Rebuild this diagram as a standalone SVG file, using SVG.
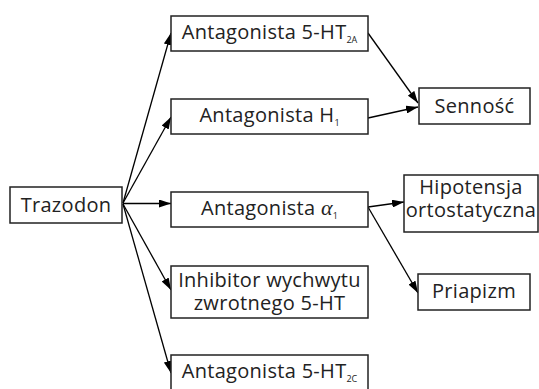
<svg xmlns="http://www.w3.org/2000/svg" width="539" height="389" viewBox="0 0 539 389">
<defs>
<style>
.box{fill:#fff;stroke:#222;stroke-width:1.5}
.t{font-family:"Open Sans","Noto Sans",sans-serif;font-size:20px;letter-spacing:0.3px;fill:#222;text-anchor:middle}
.sub{font-size:9px;letter-spacing:0}
.c{stroke:#000;stroke-width:1.3;fill:none;marker-end:url(#ah)}
</style>
<marker id="ah" viewBox="0 0 12 8" refX="12" refY="4" markerWidth="12" markerHeight="8" markerUnits="userSpaceOnUse" orient="auto">
<path d="M0,0 L12,4 L0,8 Z" fill="#000"/>
</marker>
</defs>
<g id="connectors">
<line class="c" x1="123" y1="203" x2="171" y2="33"/>
<line class="c" x1="123" y1="203" x2="171" y2="117"/>
<line class="c" x1="123" y1="203.5" x2="171" y2="203.5"/>
<line class="c" x1="123" y1="204" x2="171" y2="290"/>
<line class="c" x1="123" y1="204" x2="171" y2="373"/>
<line class="c" x1="368" y1="33" x2="418" y2="103"/>
<line class="c" x1="368" y1="118" x2="418" y2="107"/>
<line class="c" x1="368" y1="207" x2="404" y2="202"/>
<line class="c" x1="368" y1="207" x2="418" y2="293"/>
</g>
<g id="trazodon"><rect class="box" x="10" y="187" width="112" height="36"/><text class="t" x="66" y="212">Trazodon</text></g>
<g id="ant5ht2a"><rect class="box" x="171" y="16" width="197" height="35"/><text class="t" x="269.5" y="38.5">Antagonista 5-HT<tspan class="sub" dy="4">2A</tspan></text></g>
<g id="anth1"><rect class="box" x="171" y="99" width="197" height="35"/><text class="t" x="269.5" y="122">Antagonista H<tspan class="sub" dy="4">1</tspan></text></g>
<g id="antalpha1"><rect class="box" x="171" y="192" width="197" height="35"/><text class="t" x="269.5" y="215">Antagonista <tspan font-family="'Liberation Serif',serif" font-style="italic" font-size="22px">α</tspan><tspan class="sub" dy="4">1</tspan></text></g>
<g id="inhibitor"><rect class="box" x="171" y="266" width="197" height="52"/><text class="t" x="269.5" y="287">Inhibitor wychwytu</text><text class="t" x="269.5" y="310">zwrotnego 5-HT</text></g>
<g id="ant5ht2c"><rect class="box" x="171" y="355" width="197" height="40"/><text class="t" x="269.5" y="378">Antagonista 5-HT<tspan class="sub" dy="4">2C</tspan></text></g>
<g id="sennosc"><rect class="box" x="419" y="88" width="111" height="36"/><text class="t" x="474.5" y="113">Senność</text></g>
<g id="hipotensja"><rect class="box" x="404" y="175" width="134" height="57"/><text class="t" x="471" y="194">Hipotensja</text><text class="t" x="471" y="217">ortostatyczna</text></g>
<g id="priapizm"><rect class="box" x="418" y="274" width="112" height="36"/><text class="t" x="474" y="298">Priapizm</text></g>
</svg>
